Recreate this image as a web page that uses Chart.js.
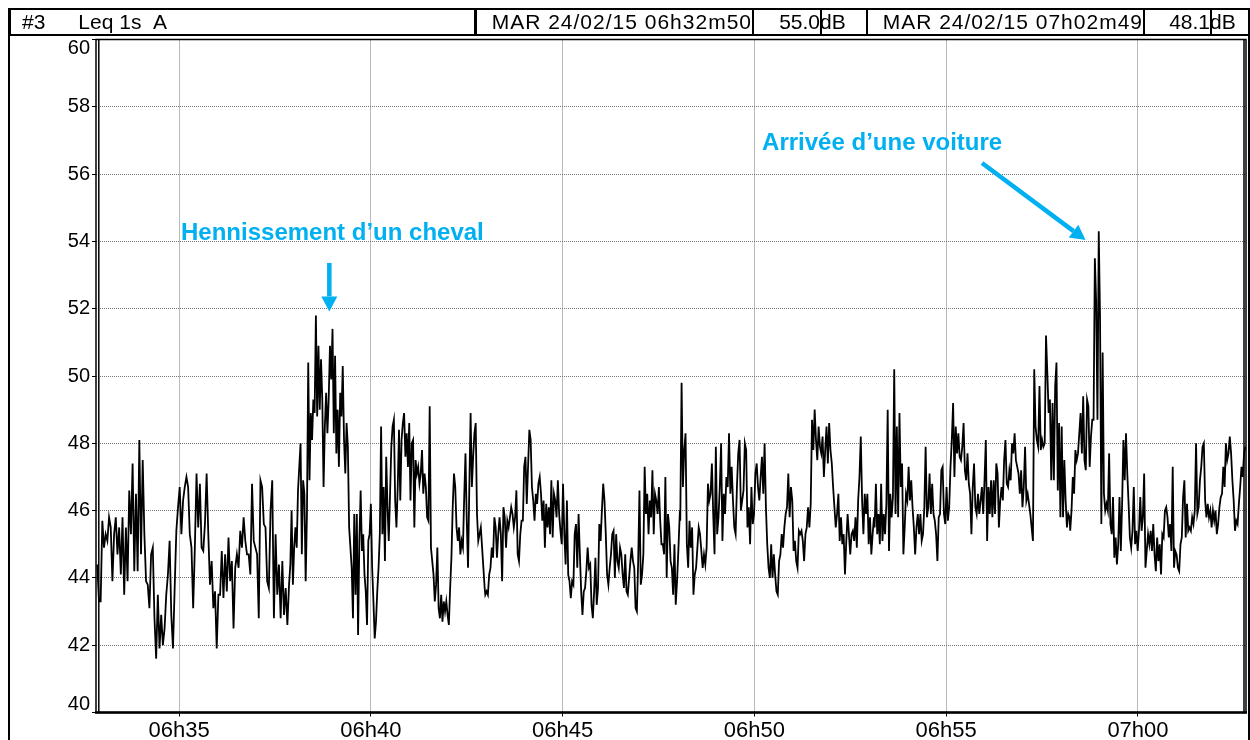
<!DOCTYPE html>
<html>
<head>
<meta charset="utf-8">
<script src="https://cdn.jsdelivr.net/npm/chart.js@4.4.1/dist/chart.umd.min.js"></script>
<style>
  body { margin: 0; background: #fff; }
  #wrap { position: relative; width: 1250px; height: 740px; overflow: hidden;
          font-family: "Liberation Sans", Arial, sans-serif; }
  #chart { position: absolute; left: 0; top: 0; }
  .cell { position: absolute; top: 8px; height: 28px; box-sizing: border-box;
          border: 2px solid #000; font-size: 21px; line-height: 24px;
          white-space: nowrap; overflow: hidden; color: #000; }
  .r { text-align: right; }
  .open { border-left: none; border-right: none; }
</style>
</head>
<body>
<div id="wrap">
  <canvas id="chart" width="1250" height="740"></canvas>
  <div class="cell" style="left:9px;width:467px"><span style="margin-left:11px">#3</span><span style="margin-left:33px">Leq 1s&nbsp;&nbsp;A</span></div>
  <div class="cell r" style="left:475px;width:279px;letter-spacing:1px">MAR 24/02/15 06h32m50</div>
  <div class="cell r" style="left:752px;width:70px">55.0</div>
  <div class="cell open" style="left:820px;width:48px">dB</div>
  <div class="cell r" style="left:866px;width:279px;letter-spacing:1px">MAR 24/02/15 07h02m49</div>
  <div class="cell r" style="left:1143px;width:69px">48.1</div>
  <div class="cell" style="left:1210px;width:40px;border-left:none">dB</div>
</div>
<script>
// Leq 1s A levels (dB), one block per ~5 minutes
const lv0632 = [44.4,43.3,43.3,45.7,44.9,45.3,45.1,45.8,45.5,43.9,45.3,45.8,44.7,45.5,44.1,45.8,43.5,45.5,43.9,46.6,45.3,47.4,44.2,46.5,44.2,48.1,44.7,47.5,45.3,43.9,43.8,43.1,44.7,44.9,42.8,41.6,43.5,41.9,42.9,42.0,42.5,43.5,44.1,45.1,42.9,41.9,43.7,45.4,46.1,46.7,45.3,46.3,46.7,47.0,46.7,45.3,44.9,43.1,44.9,47.1,45.5,46.8,44.9,44.8,45.6,47.1,45.3,43.8,44.5,43.1,43.6,41.9,43.5,43.5,44.8,43.4,44.7,43.6,45.2,43.9,44.5,42.5,44.3,44.7,44.3,45.4,44.9,45.8,45.1,44.7,44.7,44.1,46.8,45.1,44.9,44.7,42.8,46.9,46.7,45.6,45.5,43.9,43.7,46.0,46.9,42.8,45.3,43.5,44.4,42.8,44.5,42.9,43.7,42.6,43.8];
const lv0637 = [44.4,46.0,43.8,44.9,45.5,44.9,46.6,47.3,48.0,44.7,46.9,46.5,43.9,45.9,50.4,46.9,48.9,48.1,49.3,48.9,51.8,48.8,50.9,49.0,50.5,49.3,46.7,48.5,49.5,48.3,49.3,50.9,49.9,51.4,48.3,50.6,47.7,49.0,47.3,49.5,48.8,50.3,48.1,47.1,48.6,47.9,45.5,44.9,44.3,42.8,45.9,43.5,45.9,42.3,45.1,46.6,44.8,45.3,44.1,43.6,42.6,45.1,45.3,46.2,44.3,43.3,42.2,42.7,43.6,44.3,45.3,48.5,45.3,46.7,44.5,47.6,46.1,45.1,46.5,47.9,48.5,48.7,46.3,45.5,46.7,48.4,46.3,48.1,48.6,48.9,47.6,48.3,47.3,48.6,46.3,48.0,48.1,45.5,47.5,47.1,47.3,46.8,47.1,47.8,46.5,47.1,46.7,45.8,45.7,49.1,44.9,44.5,44.1,43.3,43.8,44.9,43.1,42.8,43.5,42.7,43.3,43.0,43.3,42.9,42.6,43.7,44.6,46.1,47.1,46.7,45.5,45.1,45.5,44.7,45.1,44.9,46.4,47.7,45.7,44.3,46.7,48.9,46.7,47.6,48.3,48.6,45.9,45.1,45.3,45.5,44.9,44.3,43.7];
const lv0643 = [43.5,43.6,43.5,44.1,44.3,44.9,44.6,45.8,45.5,44.6,45.3,45.8,45.3,43.9,46.1,45.8,44.9,45.7,45.5,45.8,46.1,45.9,45.5,45.8,46.6,44.7,44.5,45.3,45.7,45.7,47.3,47.6,46.2,47.3,48.4,48.1,46.7,46.3,45.7,46.5,46.2,46.8,47.0,46.5,45.7,46.3,44.9,46.2,45.5,46.1,45.3,46.9,45.2,46.5,46.3,45.8,46.9,45.9,45.4,45.0,46.8,45.3,44.4,46.3,44.1,43.9,43.4,43.9,43.8,45.3,45.6,44.3,45.9,44.7,43.6,42.9,43.6,43.7,44.2,44.9,44.3,44.4,43.2,42.8,43.6,44.6,43.2,43.7,45.6,45.1,46.0,46.8,46.3,45.3,44.1,43.8,44.3,44.7,45.3,45.4,44.0,45.3,44.5,44.3,44.9,44.7,44.1,43.7,44.7,43.6,43.5,44.0,44.5,44.9,44.5,44.3,43.1,43.0,44.5,46.6,43.8,44.1,44.7,47.3,45.9,46.5,45.3,46.3,45.8,47.2,45.3,46.5,46.3,45.9,46.7,45.7,45.0,45.0,44.7,47.0,44.0,45.9,45.5,44.5,44.3,43.5,45.0,43.2,43.9,44.8,45.8];
const lv0648 = [45.7,49.8,46.7,47.8,48.3,45.0,44.3,45.7,44.9,45.5,43.5,44.1,44.3,44.9,45.5,45.3,44.8,44.3,44.7,44.4,44.9,46.8,46.3,46.5,47.4,45.9,44.7,47.9,45.3,45.8,46.7,48.0,45.1,46.5,45.9,47.0,46.7,48.3,46.5,47.3,46.3,45.5,45.3,46.7,47.7,48.1,46.0,46.3,46.6,48.0,47.8,45.5,46.1,45.0,46.7,45.6,45.9,47.1,47.4,46.7,46.3,47.0,47.6,46.5,48.0,46.1,45.0,44.3,44.0,45.0,44.0,44.7,44.1,43.6,43.5,44.5,44.7,45.3,44.9,45.5,45.9,46.1,47.1,45.8,46.7,46.3,44.8,45.1,44.5,44.3,45.4,45.3,45.4,45.1,44.5,45.3,45.5,46.1,45.5,46.2,48.7,47.8,49.0,48.1,47.5,48.5,47.9,47.7,48.2,47.0,47.8,48.5,47.4,48.6,47.8,47.4,46.7,46.1,45.5,45.9,46.5,45.1,45.8,45.0,45.3,44.1,45.1,45.9,45.3,44.7,45.3,45.4,45.1,45.8,44.9,46.3,47.0,48.2,46.3,45.3,46.5,45.9,46.5,45.0,45.8,44.7,45.3,45.8];
const lv0653 = [45.5,46.8,45.3,45.9,45.0,46.8,45.1,45.9,45.3,46.2,49.0,44.8,46.5,45.8,46.4,50.2,45.9,48.5,45.8,48.9,46.7,47.4,44.7,45.5,46.5,46.3,47.3,46.3,46.9,46.1,45.5,44.7,45.5,45.9,45.3,45.9,45.1,45.3,46.1,47.9,45.8,46.1,47.1,45.9,46.8,45.9,45.7,45.3,44.5,45.8,45.9,47.2,47.3,45.9,45.6,46.7,45.7,46.1,47.3,48.1,49.2,47.0,48.5,47.7,48.3,47.6,47.5,47.9,48.6,47.2,46.9,47.7,46.8,46.5,45.3,46.7,47.4,46.1,45.9,46.5,45.9,46.3,46.7,45.9,46.9,48.1,45.1,46.7,45.9,46.9,45.8,46.9,45.9,47.4,47.1,45.5,46.3,46.7,46.3,47.5,48.1,46.8,46.7,47.2,46.9,48.0,47.7,48.3,47.5,47.3,47.1,46.5,47.2,46.1,46.7,47.9,46.3,46.5,46.2,45.9,45.5,45.1,50.2,48.5,48.1,47.9,49.7,47.8,48.1,47.9,48.0,51.2,50.1,48.9,49.3,46.9,49.2,46.9,49.7,50.4,46.6,48.6,45.8,48.5,45.8,47.5,46.3,45.5,45.9,45.8];
const lv0658 = [45.4,46.0,47.0,46.5,47.8,47.5,47.7,48.3,48.9,47.7,49.4,47.5,47.2,49.3,49.1,47.3,48.2,48.7,48.7,53.5,52.2,48.7,54.3,51.7,45.6,50.7,46.5,46.0,46.2,46.0,47.7,45.6,45.3,46.4,44.6,45.2,44.4,45.0,46.4,44.8,46.2,48.1,46.9,48.3,47.1,46.2,45.2,44.9,45.4,46.7,45.0,45.4,44.8,45.4,46.4,45.4,45.8,47.1,44.3,44.8,45.3,45.0,45.4,44.8,45.6,44.7,44.2,45.2,44.5,45.0,44.1,45.3,45.2,46.0,46.1,45.8,45.2,45.6,44.8,47.3,44.3,44.8,44.7,44.3,44.2,45.0,45.2,46.4,46.9,45.2,46.2,45.4,45.5,45.4,45.8,45.6,46.0,48.0,45.9,46.1,46.9,47.3,47.9,48.0,46.3,45.8,46.2,45.8,46.0,45.5,46.0,45.7,46.0,45.3,45.6,46.1,46.4,46.5,47.3,46.7,48.0,47.5,47.7,48.2,47.7,46.9,46.3,45.4,45.7,45.6,46.2,46.7,47.3,47.0,47.7,47.9];

// seconds after 06h32m50 covered by each block
const blockStart = [2, 304, 609, 914, 1218, 1524];
const blockEnd = [302, 608, 913, 1217, 1523, 1798];
const blocks = [lv0632, lv0637, lv0643, lv0648, lv0653, lv0658];

const xTicks = [130, 430, 730, 1030, 1330, 1630];
const xLabels = ['06h35', '06h40', '06h45', '06h50', '06h55', '07h00'];
const yMin = 40, yMax = 60, yStep = 2;

const blue = '#00b0f0';
const notes = [
    {text: 'Hennissement d\u2019un cheval', x: 133, y: 54.04, from: [365, 53.36], to: [365, 51.92]},
    {text: 'Arriv\u00e9e d\u2019une voiture', x: 1042, y: 56.72, from: [1386, 56.33], to: [1548, 54.04]}
];

let points = []
blocks.forEach((lv, k) => {
    const step = (blockEnd[k] - blockStart[k]) / (lv.length - 1)
    lv.forEach((v, i) => points.push({x: blockStart[k] + i * step, y: v}))
})

const framePlugin = {
    id: 'frame',
    afterDraw(chart) {
        const ctx = chart.ctx
        const a = chart.chartArea
        const ys = chart.scales.y
        ctx.save()
        ctx.strokeStyle = '#000'
        // plot box
        ctx.lineWidth = 1.5
        ctx.strokeRect(a.left, a.top, a.right - a.left, a.bottom - a.top)
        ctx.beginPath()
        ctx.moveTo(a.left + 2.8, a.top); ctx.lineTo(a.left + 2.8, a.bottom)
        ctx.moveTo(a.right - 2, a.top); ctx.lineTo(a.right - 2, a.bottom)
        ctx.stroke()
        ctx.lineWidth = 2.5
        ctx.beginPath()
        ctx.moveTo(a.left - 1, a.bottom); ctx.lineTo(a.right + 1, a.bottom)
        ctx.stroke()
        // outer frame
        ctx.lineWidth = 2
        ctx.beginPath()
        ctx.moveTo(9, 8); ctx.lineTo(9, 740)
        ctx.moveTo(1249, 8); ctx.lineTo(1249, 740)
        ctx.stroke()
        // end labels of the y axis sit inside the box
        ctx.fillStyle = '#000'
        ctx.font = '20px "Liberation Sans", Arial, sans-serif'
        ctx.textAlign = 'right'
        ctx.textBaseline = 'top'
        ctx.fillText(String(yMax), a.left - 6, ys.getPixelForValue(yMax) - 1)
        ctx.textBaseline = 'bottom'
        ctx.fillText(String(yMin), a.left - 6, ys.getPixelForValue(yMin) + 2)
        ctx.restore()
    }
}

const notePlugin = {
    id: 'notes',
    afterDatasetsDraw(chart) {
        const ctx = chart.ctx
        const xs = chart.scales.x, ys = chart.scales.y
        ctx.save()
        ctx.fillStyle = blue
        ctx.strokeStyle = blue
        ctx.font = 'bold 24px "Liberation Sans", Arial, sans-serif'
        ctx.textBaseline = 'alphabetic'
        notes.forEach(n => {
            ctx.fillText(n.text, xs.getPixelForValue(n.x), ys.getPixelForValue(n.y))
            const x1 = xs.getPixelForValue(n.from[0]), y1 = ys.getPixelForValue(n.from[1])
            const x2 = xs.getPixelForValue(n.to[0]), y2 = ys.getPixelForValue(n.to[1])
            const ang = Math.atan2(y2 - y1, x2 - x1)
            const head = 15, half = 8
            const bx = x2 - head * Math.cos(ang), by = y2 - head * Math.sin(ang)
            ctx.lineWidth = 4.5
            ctx.beginPath()
            ctx.moveTo(x1, y1)
            ctx.lineTo(bx, by)
            ctx.stroke()
            ctx.beginPath()
            ctx.moveTo(x2, y2)
            ctx.lineTo(bx - half * Math.sin(ang), by + half * Math.cos(ang))
            ctx.lineTo(bx + half * Math.sin(ang), by - half * Math.cos(ang))
            ctx.closePath()
            ctx.fill()
        })
        ctx.restore()
    }
}

const chart = new Chart(document.getElementById('chart'), {
    type: 'line',
    data: {
        datasets: [{
            data: points,
            borderColor: '#000',
            borderWidth: 1.8,
            pointRadius: 0,
            tension: 0,
            fill: false
        }]
    },
    options: {
        responsive: false,
        animation: false,
        events: [],
        layout: {padding: {left: 0, top: 39.5, right: 4, bottom: 0}},
        plugins: {legend: {display: false}, tooltip: {enabled: false}},
        scales: {
            x: {
                type: 'linear',
                min: 0,
                max: 1799,
                afterBuildTicks: s => { s.ticks = xTicks.map(v => ({value: v})) },
                afterFit: s => { s.height = 27.5 },
                ticks: {
                    autoSkip: false,
                    maxRotation: 0,
                    padding: 1,
                    color: '#000',
                    font: {family: '"Liberation Sans", Arial, sans-serif', size: 22},
                    callback: v => xLabels[xTicks.indexOf(v)]
                },
                grid: {color: '#777', lineWidth: 1, tickLength: 4, tickColor: '#000', tickBorderDash: []},
                border: {display: false, dash: [1, 1]}
            },
            y: {
                min: yMin,
                max: yMax,
                afterFit: s => { s.width = 96 },
                ticks: {
                    stepSize: yStep,
                    padding: 2,
                    color: '#000',
                    font: {family: '"Liberation Sans", Arial, sans-serif', size: 20},
                    callback: v => (v === yMin || v === yMax) ? '' : String(v)
                },
                grid: {color: '#777', lineWidth: 1, tickLength: 4, tickColor: '#000', tickBorderDash: []},
                border: {display: false, dash: [1, 1]}
            }
        }
    },
    plugins: [framePlugin, notePlugin]
});
</script>
</body>
</html>
